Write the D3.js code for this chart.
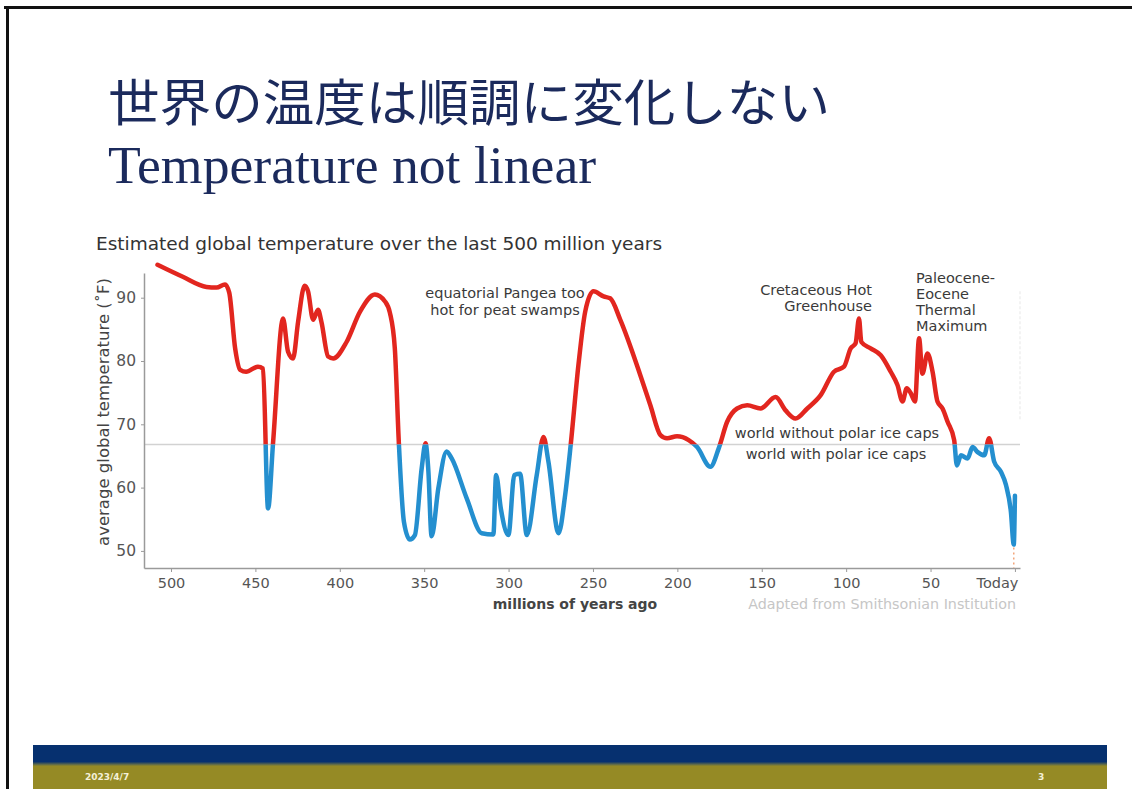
<!DOCTYPE html>
<html>
<head>
<meta charset="utf-8">
<script src="https://cdn.jsdelivr.net/npm/d3@7/dist/d3.min.js"></script>
<style>
  html, body { margin: 0; padding: 0; background: #fff; }
  svg { display: block; }
  .tick text { font-family: "DejaVu Sans", sans-serif; fill: #555; }
  .note { font-family: "DejaVu Sans", sans-serif; font-size: 14.5px; fill: #3a3a3a; }
</style>
</head>
<body>
<div id="svg"></div>
<script>
// millions of years ago -> average global temperature (F)
var ages = [508, 493, 479, 473, 468, 465.5, 462, 459, 455.5, 448.5, 445.5, 442.5, 439.5,
  433.6, 430.7, 427.7, 424.7, 420.8, 418.8, 415.8, 412.9, 410.9, 406.9, 403.9, 396, 388,
  379.2, 373.2, 370.3, 367.4, 365, 362, 358.5, 355.5, 351.5, 349.2, 347.6, 345.6, 341.6,
  336.7, 333.7, 324.8, 315.9, 309, 307.4, 304.6, 300.1, 296.6, 293.2, 289.2, 283.3, 279.3,
  276.4, 270.4, 266.5, 263.1, 258.6, 254.6, 249.7, 243.7, 239.8, 233.8, 222, 216, 210,
  206.1, 200.2, 193.3, 188.3, 180.4, 175.5, 170.5, 164.6, 158.6, 150.7, 141.8, 135.9, 130,
  123, 115.1, 107.2, 101.3, 97.3, 94.4, 92.4, 91, 85.5, 79.5, 73.6, 69.6, 66.6, 64.1, 61.7,
  59.2, 56.8, 54.8, 51.8, 48.8, 45.9, 42.9, 39.9, 36, 34.4, 32, 28.1, 25.1, 22.1, 18.2,
  15.3, 12.3, 8.3, 5.3, 2.4, 0.7, 0];
var temps = [95.2, 93.3, 91.7, 91.6, 92.1, 90.8, 82, 78.6, 78.3, 79.1, 78.8, 56.7, 67.2,
  86.7, 81.5, 80.4, 86.2, 91.9, 91, 86.5, 88.1, 86.2, 80.7, 80.4, 83, 87.8,
  90.5, 89.4, 87.6, 82, 67, 54.6, 51.8, 52.5, 63, 67, 63, 52.3, 59.9,
  65.7, 64.6, 58.3, 52.8, 52.6, 62, 56.7, 52.5, 62, 62.2, 52.5, 62, 68,
  64.1, 52.8, 58.8, 67, 79.4, 87.8, 91, 90.2, 89.9, 86.5, 77.8, 73, 68.3,
  67.8, 68.1, 67.5, 66.4, 63.3, 66.2, 70.4, 72.5, 73, 72.5, 74.3, 72.2, 70.9,
  72.5, 74.6, 78.3, 79.1, 82, 82.8, 86.7, 83, 82, 80.9, 78.3, 76.2, 73.6, 75.7, 74.9,
  73.6, 83.6, 78, 81.2, 78.3, 73.6, 72.5, 70.4, 67.5, 63.5, 65.1, 64.6, 66.4, 65.6, 65.1,
  67.8, 64.1, 62.5, 60.4, 56.2, 51, 58.7];
var iceCapLine = 66.8;
var xTicks = [500, 450, 400, 350, 300, 250, 200, 150, 100, 50, 0];
var xTickLabels = ["500", "450", "400", "350", "300", "250", "200", "150", "100", "50", "Today"];
var yTicks = [50, 60, 70, 80, 90];

var data = ages.map(function(a, i){ return {age: a, temp: temps[i]}; });

var W = 1132, H = 789,
    plot = {left: 144, right: 1020, top: 273, bottom: 568};

var svg = d3.select('#svg').append('svg')
            .attr('width', W)
            .attr('height', H);

// slide frame
svg.append('line').attr('x1', 4).attr('x2', W).attr('y1', 7.5).attr('y2', 7.5)
  .attr('stroke', '#111').attr('stroke-width', 3);
svg.append('line').attr('x1', 7.5).attr('x2', 7.5).attr('y1', 6).attr('y2', H)
  .attr('stroke', '#111').attr('stroke-width', 3);

// titles
svg.append('text')
  .attr('x', 108).attr('y', 121)
  .attr('font-family', '"Noto Sans CJK JP", sans-serif')
  .attr('font-size', 50)
  .attr('textLength', 722).attr('lengthAdjust', 'spacingAndGlyphs')
  .attr('fill', '#1b2a5c')
  .text('世界の温度は順調に変化しない');
svg.append('text')
  .attr('x', 108).attr('y', 183)
  .attr('font-family', '"Liberation Serif", serif')
  .attr('font-size', 53.7)
  .attr('fill', '#1b2a5c')
  .text('Temperature not linear');

svg.append('text')
  .attr('x', 96).attr('y', 250)
  .attr('font-family', '"DejaVu Sans", sans-serif')
  .attr('font-size', 18.5)
  .attr('fill', '#333')
  .text('Estimated global temperature over the last 500 million years');

// scales
var x = d3.scaleLinear().domain([516, -3]).range([plot.left, plot.right]);
var y = d3.scaleLinear().domain([47.3, 93.9]).range([plot.bottom, plot.top]);

var chartGroup = svg.append('g').attr('class', 'main');

// ice cap threshold
chartGroup.append('line')
  .attr('x1', plot.left).attr('x2', plot.right)
  .attr('y1', y(iceCapLine)).attr('y2', y(iceCapLine))
  .attr('stroke', '#d2d2d2').attr('stroke-width', 1.5);

// faint marker at the right edge
chartGroup.append('line')
  .attr('x1', plot.right).attr('x2', plot.right)
  .attr('y1', y(91)).attr('y2', y(70.5))
  .attr('stroke', '#efefef').attr('stroke-width', 1.5)
  .attr('stroke-dasharray', '3,2');

// Add Axis
var xAxis = d3.axisBottom(x).tickValues(xTicks)
  .tickFormat(function(d, i){ return xTickLabels[i]; })
  .tickSize(4).tickSizeOuter(0).tickPadding(6);
var yAxis = d3.axisLeft(y).tickValues(yTicks)
  .tickSize(3).tickSizeOuter(0).tickPadding(5);

var gx = chartGroup.append('g')
  .attr('transform', 'translate(0,' + plot.bottom + ')')
  .attr('class', 'xaxis').call(xAxis);
var gy = chartGroup.append('g')
  .attr('transform', 'translate(' + plot.left + ',0)')
  .attr('class', 'yaxis').call(yAxis);

[gx, gy].forEach(function(g){
  g.select('.domain').attr('stroke', '#9a9a9a').attr('stroke-width', 1.5);
  g.selectAll('.tick line').attr('stroke', '#9a9a9a');
});
gx.selectAll('.tick text').attr('font-size', 14.5);
gy.selectAll('.tick text').attr('font-size', 15.5);
gx.selectAll('.tick text').filter(function(d){ return d === 0; })
  .attr('text-anchor', 'end').attr('dx', 3);

svg.append('text')
  .attr('transform', 'translate(109,412) rotate(-90)')
  .attr('text-anchor', 'middle')
  .attr('font-family', '"DejaVu Sans", sans-serif')
  .attr('font-size', 16.5)
  .attr('fill', '#444')
  .text('average global temperature (˚F)');

svg.append('text')
  .attr('x', 575).attr('y', 609)
  .attr('text-anchor', 'middle')
  .attr('font-family', '"DejaVu Sans", sans-serif')
  .attr('font-size', 14).attr('font-weight', 'bold')
  .attr('fill', '#444')
  .text('millions of years ago');

svg.append('text')
  .attr('x', 1016).attr('y', 609)
  .attr('text-anchor', 'end')
  .attr('font-family', '"DejaVu Sans", sans-serif')
  .attr('font-size', 14.3)
  .attr('fill', '#c6c6c6')
  .text('Adapted from Smithsonian Institution');

// Add Chart
var defs = svg.append('defs');
defs.append('clipPath').attr('id', 'warm').append('rect')
  .attr('x', 0).attr('y', 0).attr('width', W).attr('height', y(iceCapLine));
defs.append('clipPath').attr('id', 'cold').append('rect')
  .attr('x', 0).attr('y', y(iceCapLine)).attr('width', W).attr('height', H - y(iceCapLine));

var line = d3.line()
      .x((d) => x(d.age))
      .y((d) => y(d.temp))
      .curve(d3.curveMonotoneX);

// modern dotted drop to the axis
var lowest = data[data.length - 2];
chartGroup.append('line')
  .attr('x1', x(lowest.age)).attr('x2', x(lowest.age))
  .attr('y1', y(lowest.temp) + 3).attr('y2', plot.bottom)
  .attr('stroke', '#f2a57a').attr('stroke-width', 1.5)
  .attr('stroke-dasharray', '2,3');

chartGroup.append('path')
  .attr('d', line(data))
  .attr('clip-path', 'url(#warm)')
  .attr('fill', 'none').attr('stroke', '#e2261f')
  .attr('stroke-width', 4.5).attr('stroke-linejoin', 'round').attr('stroke-linecap', 'round');

chartGroup.append('path')
  .attr('d', line(data))
  .attr('clip-path', 'url(#cold)')
  .attr('fill', 'none').attr('stroke', '#248fcf')
  .attr('stroke-width', 4.5).attr('stroke-linejoin', 'round').attr('stroke-linecap', 'round');

// annotations
function note(lines, xPos, yPos, anchor, lh){
  var t = svg.append('text').attr('class', 'note')
    .attr('text-anchor', anchor);
  lines.forEach(function(s, i){
    t.append('tspan').attr('x', xPos).attr('y', yPos + i * lh).text(s);
  });
}
note(['equatorial Pangea too', 'hot for peat swamps'], 505, 298, 'middle', 16.5);
note(['Cretaceous Hot', 'Greenhouse'], 872, 295, 'end', 16);
note(['Paleocene-', 'Eocene', 'Thermal', 'Maximum'], 916, 283, 'start', 16);
note(['world without polar ice caps'], 837, 438, 'middle', 0);
note(['world with polar ice caps'], 836, 459, 'middle', 0);

// footer
var grad = defs.append('linearGradient').attr('id', 'band')
  .attr('x1', 0).attr('x2', 0).attr('y1', 0).attr('y2', 1);
grad.append('stop').attr('offset', '0%').attr('stop-color', '#06306f');
grad.append('stop').attr('offset', '38%').attr('stop-color', '#06306f');
grad.append('stop').attr('offset', '44%').attr('stop-color', '#5d6a4a');
grad.append('stop').attr('offset', '48%').attr('stop-color', '#958a25');
grad.append('stop').attr('offset', '100%').attr('stop-color', '#958a25');
svg.append('rect')
  .attr('x', 33).attr('y', 745).attr('width', 1074).attr('height', H - 745)
  .attr('fill', 'url(#band)');

svg.append('text')
  .attr('x', 85).attr('y', 780)
  .attr('font-family', '"DejaVu Sans", sans-serif')
  .attr('font-size', 9).attr('font-weight', 'bold')
  .attr('fill', '#f4f0d8')
  .text('2023/4/7');
svg.append('text')
  .attr('x', 1038).attr('y', 780)
  .attr('font-family', '"DejaVu Sans", sans-serif')
  .attr('font-size', 9).attr('font-weight', 'bold')
  .attr('fill', '#f4f0d8')
  .text('3');
</script>
</body>
</html>
